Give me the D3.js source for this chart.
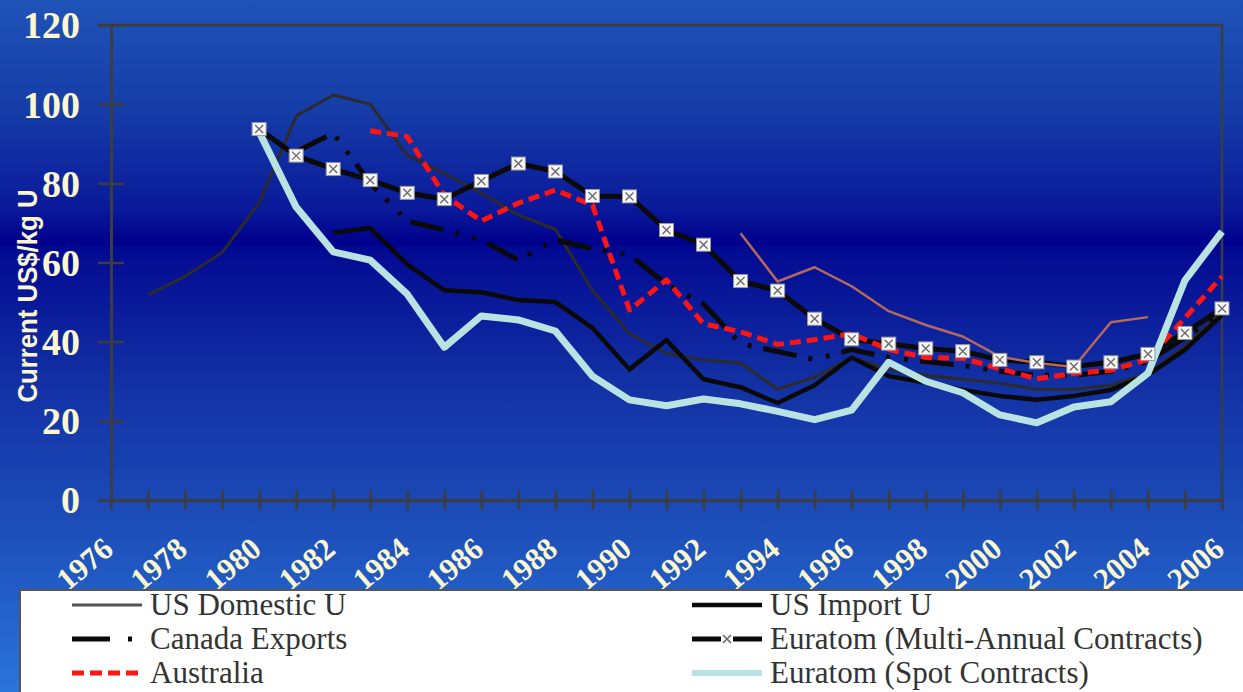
<!DOCTYPE html>
<html>
<head>
<meta charset="utf-8">
<script src="https://cdn.jsdelivr.net/npm/d3@7"></script>
<style>
  html, body { margin: 0; padding: 0; overflow: hidden; background: #0a1a98; }
  svg { display: block; }
</style>
</head>
<body>
<svg id="chart" width="1243" height="692"></svg>
<script>
// ---- data -------------------------------------------------------------
const years = [1976, 1977, 1978, 1979, 1980, 1981, 1982, 1983, 1984, 1985,
               1986, 1987, 1988, 1989, 1990, 1991, 1992, 1993, 1994, 1995,
               1996, 1997, 1998, 1999, 2000, 2001, 2002, 2003, 2004, 2005, 2006];

const usDomestic = [null, 51.8, 56.5, 62.5, 75, 97, 102.3, 100, 87, 82.5,
                    77.5, 72, 68.4, 53, 42, 37, 35.4, 34.6, 28, 31,
                    36, 33, 31.5, 30.5, 29.5, 28, 28, 29, 32, 39, 47.5];

const usImport = [null, null, null, null, null, null, 67.5, 68.7, 59.5, 53,
                  52.5, 50.5, 50, 43.5, 33, 40.4, 30.5, 28.5, 24.5, 29,
                  36, 31.3, 29.6, 27.8, 26.3, 25.3, 26.3, 27.8, 31.6, 37.9, 46.7];

const canadaExports = [null, null, null, null, null, 88, 92.7, 80, 70.5, 68.2,
                       65.7, 60.6, 65.7, 63.5, 62, 54.5, 49.5, 39.5, 37.5, 35.5,
                       38, 36, 35, 34, 32.5, 31.5, 31.5, 32.5, 35, 41, 47.5];

const euratomMulti = [null, null, null, null, 93.7, 87, 83.6, 80.8, 77.6, 76,
                      80.6, 85, 83, 76.8, 76.7, 68.2, 64.5, 55.3, 52.9, 45.8,
                      40.6, 39.5, 38.3, 37.6, 35.4, 34.8, 33.7, 34.8, 36.9, 42.2, 48.4];

const australia = [null, null, null, null, null, null, null, 93.3, 91.8, 77,
                   70.5, 75, 78.3, 74.5, 48, 55.6, 44.5, 42.5, 39.3, 40.5,
                   42, 38, 36, 35.8, 33.2, 30.6, 32, 32.8, 35.5, 46, 56.5];

const euratomSpot = [null, null, null, null, 93, 74, 62.7, 60.6, 52, 38.6,
                     46.5, 45.5, 42.7, 31.3, 25.3, 23.8, 25.5, 24.3, 22.4, 20.3,
                     22.7, 34.8, 30, 27.1, 21.5, 19.5, 23.5, 24.8, 32, 55.5, 67.8];

// thin series drawn without a legend entry
const otherSeries = [null, null, null, null, null, null, null, null, null, null,
                     null, null, null, null, null, null, null, 67.4, 55.2, 58.8,
                     54, 47.7, 44.2, 41.3, 36.2, 34.6, 33.6, 44.9, 46.2, null, null];

const yTicks = [0, 20, 40, 60, 80, 100, 120];
const xLabelYears = [1976, 1978, 1980, 1982, 1984, 1986, 1988, 1990, 1992,
                     1994, 1996, 1998, 2000, 2002, 2004, 2006];

const yTitle = "Current US$/kg U";

// ---- setup ------------------------------------------------------------
const W = 1243, H = 692;
const svg = d3.select("#chart");
const defs = svg.append("defs");

const grad = defs.append("linearGradient")
  .attr("id", "bg").attr("x1", 0).attr("y1", 0).attr("x2", 0).attr("y2", 1);
[[0, "#1f53b8"], [0.15, "#163ea8"], [0.3, "#0a1a9a"], [0.352, "#00008c"],
 [0.36, "#030a92"], [0.55, "#1230a4"], [0.75, "#1c4cb8"], [1, "#2a74da"]]
  .forEach(([o, c]) => grad.append("stop").attr("offset", o).attr("stop-color", c));

svg.append("rect").attr("width", W).attr("height", H).attr("fill", "url(#bg)");

const x = d3.scaleLinear().domain([1976, 2006]).range([111, 1222]);
const y = d3.scaleLinear().domain([0, 120]).range([500, 25]);

const cream = "#fbf8cf";
const axisColor = "#3d3d3d";
const serif = "'Liberation Serif', 'Times New Roman', serif";

// ---- frame (top + right border) ----------------------------------------
svg.append("path")
  .attr("d", `M${x(1976) - 13},${y(120)}H${x(2006)}V${y(0) + 8}`)
  .attr("fill", "none").attr("stroke", axisColor).attr("stroke-width", 2.5);

// ---- axes ----------------------------------------------------------------
const yAxis = svg.append("g")
  .attr("transform", `translate(${x(1976)},0)`)
  .call(d3.axisLeft(y).tickValues(yTicks).tickSize(13).tickSizeOuter(0));
yAxis.select(".domain").attr("stroke", axisColor).attr("stroke-width", 3);
yAxis.selectAll(".tick line").attr("x1", 13).attr("stroke", axisColor).attr("stroke-width", 2.5);
yAxis.selectAll(".tick text")
  .attr("x", -31).attr("dy", "0.34em")
  .attr("fill", cream)
  .style("font-family", serif).style("font-weight", "bold").style("font-size", "38px");

const xAxis = svg.append("g")
  .attr("transform", `translate(0,${y(0)})`)
  .call(d3.axisBottom(x).tickValues(years).tickSize(10).tickSizeOuter(0).tickFormat(""));
xAxis.select(".domain").attr("stroke", axisColor).attr("stroke-width", 3);
xAxis.selectAll(".tick line").attr("y1", -10).attr("stroke", axisColor).attr("stroke-width", 2.5);

svg.append("g").selectAll("text")
  .data(xLabelYears)
  .join("text")
  .attr("transform", d => `translate(${x(d) + 4},${y(0) + 52}) rotate(-40)`)
  .attr("text-anchor", "end")
  .attr("fill", cream)
  .style("font-family", serif).style("font-weight", "bold").style("font-size", "31px")
  .text(d => d);

svg.append("text")
  .attr("transform", "translate(27,296) rotate(-90)")
  .attr("text-anchor", "middle")
  .attr("dominant-baseline", "central")
  .attr("textLength", 213).attr("lengthAdjust", "spacingAndGlyphs")
  .attr("fill", cream)
  .style("font-family", "'Liberation Sans', Arial, sans-serif")
  .style("font-weight", "bold").style("font-size", "28px")
  .text(yTitle);

// ---- series ---------------------------------------------------------------
const toPts = vals => years.map((yr, i) => ({ year: yr, v: vals[i] }));
const line = d3.line()
  .defined(d => d.v != null)
  .x(d => x(d.year))
  .y(d => y(d.v));

const plot = svg.append("g").attr("fill", "none")
  .attr("stroke-linejoin", "round");

plot.append("path").datum(toPts(usDomestic)).attr("d", line)
  .attr("stroke", "#2b2b2b").attr("stroke-width", 3);

plot.append("path").datum(toPts(usImport)).attr("d", line)
  .attr("stroke", "#0a0a0a").attr("stroke-width", 4.5);

plot.append("path").datum(toPts(canadaExports)).attr("d", line)
  .attr("stroke", "#0a0a0a").attr("stroke-width", 5)
  .attr("stroke-dasharray", "34,12,4,14,4,12");

plot.append("path").datum(toPts(euratomMulti)).attr("d", line)
  .attr("stroke", "#0a0a0a").attr("stroke-width", 5);

plot.append("path").datum(toPts(australia)).attr("d", line)
  .attr("stroke", "#ff1414").attr("stroke-width", 5)
  .attr("stroke-dasharray", "11,6");

plot.append("path").datum(toPts(euratomSpot)).attr("d", line)
  .attr("stroke", "#b9e3e3").attr("stroke-width", 7);

plot.append("path").datum(toPts(otherSeries)).attr("d", line)
  .attr("stroke", "#b5695a").attr("stroke-width", 2.5);

// square markers with a cross on the multi-annual contract series
const markers = svg.append("g").selectAll("g")
  .data(toPts(euratomMulti).filter(d => d.v != null))
  .join("g")
  .attr("transform", d => `translate(${x(d.year)},${y(d.v)})`);
markers.append("rect")
  .attr("x", -7).attr("y", -6.5).attr("width", 14).attr("height", 13)
  .attr("fill", "#f8f8f8").attr("stroke", "#9a9a9a").attr("stroke-width", 1);
markers.append("path")
  .attr("d", "M-4,-4L4,4M-4,4L4,-4")
  .attr("stroke", "#6a6a6a").attr("stroke-width", 1.4);

// ---- legend ----------------------------------------------------------------
const legend = svg.append("g");
legend.append("rect")
  .attr("x", 20).attr("y", 590).attr("width", W).attr("height", 120)
  .attr("fill", "#ffffff").attr("stroke", "#555").attr("stroke-width", 2);

const legendItems = [
  { label: "US Domestic U", col: 0, row: 0, stroke: "#555", width: 3, dash: null },
  { label: "Canada Exports", col: 0, row: 1, stroke: "#0a0a0a", width: 5, dash: "38,18,4,20" },
  { label: "Australia", col: 0, row: 2, stroke: "#ff1414", width: 5, dash: "12,6" },
  { label: "US Import U", col: 1, row: 0, stroke: "#0a0a0a", width: 4.5, dash: null },
  { label: "Euratom (Multi-Annual Contracts)", col: 1, row: 1, stroke: "#0a0a0a", width: 5, dash: null, marker: true },
  { label: "Euratom (Spot Contracts)", col: 1, row: 2, stroke: "#b9e3e3", width: 6, dash: null }
];
const colX = [72, 692];
const rowY = [605, 639, 673];

legendItems.forEach(it => {
  const lx = colX[it.col], ly = rowY[it.row];
  const ln = legend.append("line")
    .attr("x1", lx).attr("x2", lx + 70).attr("y1", ly).attr("y2", ly)
    .attr("stroke", it.stroke).attr("stroke-width", it.width);
  if (it.dash) ln.attr("stroke-dasharray", it.dash);
  if (it.marker) {
    legend.append("rect").attr("x", lx + 29).attr("y", ly - 5).attr("width", 12).attr("height", 10)
      .attr("fill", "#fff");
    legend.append("path")
      .attr("d", `M${lx + 31},${ly - 4}L${lx + 39},${ly + 4}M${lx + 31},${ly + 4}L${lx + 39},${ly - 4}`)
      .attr("stroke", "#666").attr("stroke-width", 1.6);
  }
  legend.append("text")
    .attr("transform", `translate(${lx + 78},${ly + 10}) scale(0.97,1)`)
    .attr("fill", "#333")
    .style("font-family", serif).style("font-size", "32px")
    .text(it.label);
});
</script>
</body>
</html>
